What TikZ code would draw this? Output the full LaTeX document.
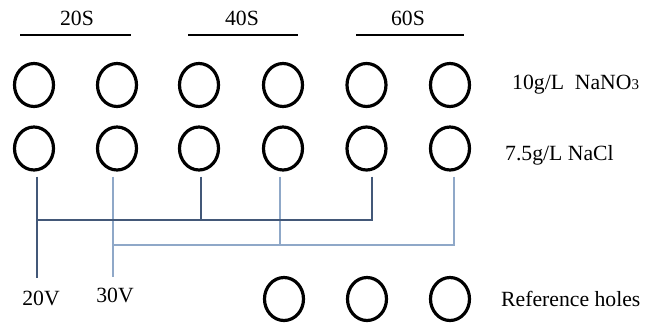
\documentclass[tikz,border=0pt]{standalone}
\usepackage{fontspec}
\setmainfont{Liberation Serif}
\newfontfamily\tms{Liberation Serif}
\usetikzlibrary{shapes.geometric}
\definecolor{wdark}{HTML}{435878}
\definecolor{wlight}{HTML}{8FA8C8}
\begin{document}
\begin{tikzpicture}[x=1pt,y=-1pt,
  hole/.style={ellipse,draw,line width=3.2pt,minimum width=39pt,minimum height=43pt,inner sep=0pt},
  lbl/.style={font=\tms\fontsize{21.7}{22}\selectfont,inner sep=0pt},
  bar/.style={draw,line width=1.2pt},
  dk/.style={draw=wdark,line width=1.8pt},
  lt/.style={draw=wlight,line width=1.5pt}]
\useasboundingbox (0,0) rectangle (646,324);
% time labels and bars
\node[lbl,anchor=base] (t20) at (77,25) {20S};
\node[lbl,anchor=base] (t40) at (242,25) {40S};
\node[lbl,anchor=base] (t60) at (408,25) {60S};
\draw[bar] (20,35) -- (131,35);
\draw[bar] (188,35) -- (298,35);
\draw[bar] (356,35) -- (464,35);
% holes
\foreach \i/\x in {1/34,2/117,3/199,4/283,5/366.5,6/450}{
  \node[hole] (a\i) at (\x,85) {};
  \node[hole] (b\i) at (\x,148.5) {};
}
\node[hole] (r1) at (284,299) {};
\node[hole] (r2) at (367,299) {};
\node[hole] (r3) at (450,299) {};
% labels
\node[lbl,anchor=base west] (l1) at (512,89) {10g/L\ \ NaNO{\fontsize{15}{15}\selectfont 3}};
\node[lbl,anchor=base west] (l2) at (505,160) {7.5g/L NaCl};
\node[lbl,anchor=base west] (l3) at (501,306) {Reference holes};
\node[lbl,anchor=base] (v20) at (41,305) {20V};
\node[lbl,anchor=base] (v30) at (115,302) {30V};
% wire coordinates
\coordinate (j1) at (37,220);
\coordinate (j3) at (201,220);
\coordinate (j5) at (372,220);
\coordinate (e20) at (37,278);
\coordinate (k2) at (113,245);
\coordinate (k4) at (280,245);
\coordinate (k6) at (454,245);
\coordinate (e30) at (113,277);
% light wires (30V)
\draw[lt,shorten <=5pt] (b2.south -| e30) -- (e30);
\draw[lt,shorten <=5pt] (b6.south -| k6) -- (k6) -- (k2);
\draw[lt,shorten <=5pt] (b4.south -| k4) -- (k4);
% dark wires (20V)
\draw[dk,shorten <=5pt] (b1.south -| e20) -- (e20);
\draw[dk,shorten <=5pt] (b5.south -| j5) -- (j5) -- (j1);
\draw[dk,shorten <=5pt] (b3.south -| j3) -- (j3);
\end{tikzpicture}
\end{document}
